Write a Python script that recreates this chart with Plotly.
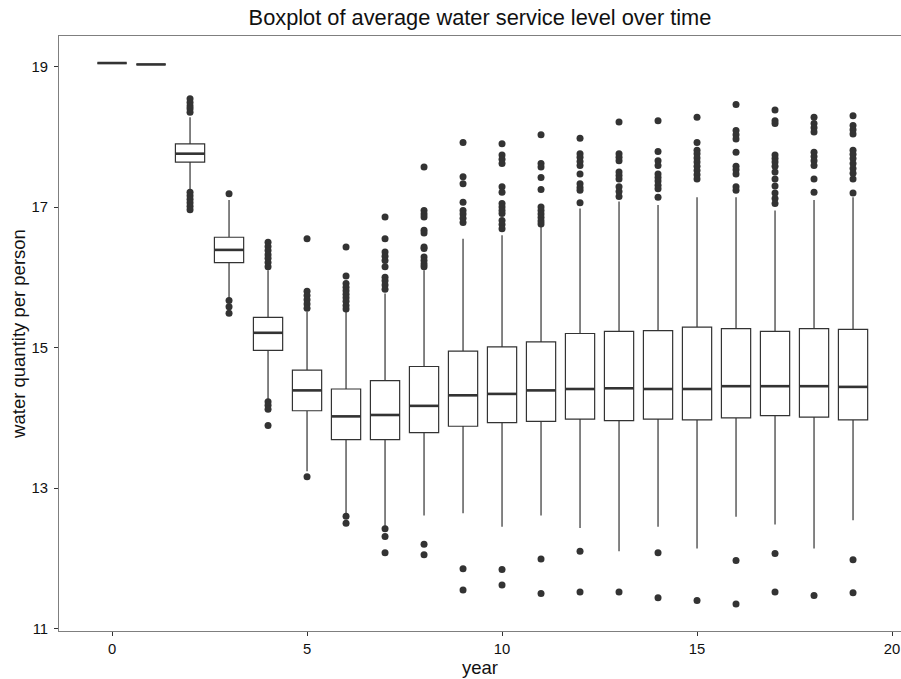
import plotly.graph_objects as go

years = list(range(20))
q1 = [19.05, 19.03, 17.64, 16.21, 14.96, 14.10, 13.69, 13.69, 13.79, 13.88,
      13.93, 13.95, 13.98, 13.96, 13.98, 13.97, 14.00, 14.03, 14.01, 13.97]
median = [19.05, 19.03, 17.76, 16.39, 15.21, 14.39, 14.02, 14.04, 14.17, 14.32,
          14.34, 14.39, 14.41, 14.42, 14.41, 14.41, 14.45, 14.45, 14.45, 14.44]
q3 = [19.05, 19.03, 17.90, 16.57, 15.43, 14.68, 14.41, 14.53, 14.73, 14.95,
      15.01, 15.08, 15.20, 15.23, 15.24, 15.29, 15.27, 15.23, 15.27, 15.26]
lower_whisker = [19.05, 19.03, 17.24, 15.70, 14.25, 13.24, 12.64, 12.43, 12.61, 12.64,
                 12.45, 12.61, 12.43, 12.10, 12.45, 12.14, 12.59, 12.48, 12.14, 12.54]
upper_whisker = [19.05, 19.03, 18.28, 17.10, 16.10, 15.51, 15.51, 15.77, 16.10, 16.55,
                 16.60, 16.74, 16.98, 17.08, 17.03, 17.14, 17.14, 16.95, 17.10, 17.14]
outliers = [
    [],
    [],
    [18.54, 18.49, 18.44, 18.40, 18.35, 17.21, 17.16, 17.11, 17.06, 17.01, 16.96],
    [17.19, 15.67, 15.58, 15.49],
    [16.50, 16.44, 16.38, 16.32, 16.27, 16.21, 16.15, 14.23, 14.18, 14.12, 13.89],
    [16.55, 15.80, 15.74, 15.68, 15.62, 15.56, 13.16],
    [16.43, 16.02, 15.91, 15.86, 15.81, 15.76, 15.71, 15.66, 15.60, 15.55, 12.60, 12.50],
    [16.86, 16.55, 16.36, 16.30, 16.24, 16.15, 16.00, 15.95, 15.89, 15.83, 12.42, 12.31, 12.08],
    [17.57, 16.95, 16.90, 16.86, 16.67, 16.63, 16.43, 16.41, 16.29, 16.24, 16.19, 16.15, 12.20, 12.05],
    [17.92, 17.43, 17.33, 17.07, 16.95, 16.90, 16.84, 16.78, 11.85, 11.55],
    [17.90, 17.74, 17.68, 17.62, 17.29, 17.21, 17.05, 17.00, 16.95, 16.91, 16.81, 16.75, 16.69, 11.84, 11.62],
    [18.03, 17.62, 17.57, 17.42, 17.25, 17.00, 16.95, 16.90, 16.85, 16.80, 16.76, 11.99, 11.50],
    [17.98, 17.76, 17.71, 17.65, 17.59, 17.47, 17.33, 17.28, 17.24, 17.06, 12.10, 11.52],
    [18.21, 17.76, 17.71, 17.66, 17.50, 17.45, 17.40, 17.29, 17.22, 17.15, 11.52],
    [18.23, 17.79, 17.66, 17.59, 17.47, 17.42, 17.37, 17.31, 17.26, 17.14, 12.08, 11.44],
    [18.28, 17.92, 17.81, 17.76, 17.70, 17.64, 17.58, 17.52, 17.46, 17.40, 11.40],
    [18.46, 18.09, 18.03, 17.97, 17.78, 17.58, 17.53, 17.47, 17.29, 17.24, 11.97, 11.35],
    [18.38, 18.23, 18.19, 17.74, 17.69, 17.64, 17.58, 17.50, 17.40, 17.30, 17.20, 17.12, 17.05, 12.07, 11.52],
    [18.28, 18.19, 18.13, 18.07, 17.78, 17.72, 17.66, 17.59, 17.40, 17.21, 11.47],
    [18.30, 18.16, 18.10, 18.04, 17.81, 17.75, 17.69, 17.62, 17.55, 17.48, 17.40, 17.20, 11.98, 11.51],
]
x_ticks = [0, 5, 10, 15, 20]
y_ticks = [11, 13, 15, 17, 19]

BOX_W = 0.75
INK = "#333333"
FONT = "Liberation Sans, Arial, sans-serif"

fig = go.Figure()
fig.add_trace(go.Box(
    x=years, q1=q1, median=median, q3=q3,
    lowerfence=lower_whisker, upperfence=upper_whisker,
    width=BOX_W, whiskerwidth=0, boxpoints=False,
    fillcolor="white", line=dict(color=INK, width=1.2),
    showlegend=False, hoverinfo="skip",
))

mx, my = [], []
for yr, m in zip(years, median):
    mx += [yr - BOX_W / 2, yr + BOX_W / 2, None]
    my += [m, m, None]
fig.add_trace(go.Scatter(x=mx, y=my, mode="lines",
                         line=dict(color=INK, width=2.6),
                         showlegend=False, hoverinfo="skip"))

ox, oy = [], []
for yr, vals in zip(years, outliers):
    ox += [yr] * len(vals)
    oy += vals
fig.add_trace(go.Scatter(x=ox, y=oy, mode="markers",
                         marker=dict(color=INK, size=7, line=dict(width=0)),
                         showlegend=False, hoverinfo="skip"))

fig.update_layout(
    width=901, height=679,
    margin=dict(l=59, r=0, t=36, b=48),
    paper_bgcolor="white", plot_bgcolor="white",
    font=dict(family=FONT, color="#111111"),
    title=dict(text="Boxplot of average water service level over time",
               x=0.5, xanchor="center", y=1 - 17 / 679, yanchor="middle",
               xref="paper", font=dict(size=21.8, color="#111111")),
)
fig.update_xaxes(
    range=[-1.36, 20.23], tickvals=x_ticks, ticktext=[str(t) for t in x_ticks],
    showgrid=False, zeroline=False, automargin=False, ticklabeloverflow="allow",
    showline=True, linecolor="#7f7f7f", linewidth=1, mirror=True,
    ticks="outside", ticklen=4, tickcolor="#333333", tickwidth=1,
    tickfont=dict(size=14.8, color="#111111"),
    title=dict(text="year", font=dict(size=18.5, color="#111111"), standoff=1),
)
fig.update_yaxes(
    range=[10.965, 19.435], tickvals=y_ticks, ticktext=[str(t) for t in y_ticks],
    showgrid=False, zeroline=False, automargin=False, ticklabeloverflow="allow",
    showline=True, linecolor="#7f7f7f", linewidth=1, mirror=False,
    ticks="outside", ticklen=4, tickcolor="#333333", tickwidth=1,
    ticklabelstandoff=3,
    tickfont=dict(size=14.8, color="#111111"),
    title=dict(text="water quantity per person", font=dict(size=18.5, color="#111111"), standoff=1),
)

fig.write_html("out.html",
               config={"displayModeBar": False},
               post_script="document.body.style.margin='0px';document.body.style.overflow='hidden';")
